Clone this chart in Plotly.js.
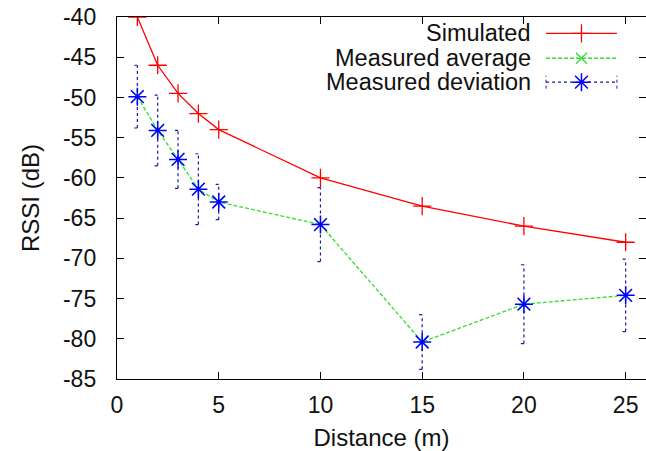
<!DOCTYPE html>
<html>
<head>
<meta charset="utf-8">
<script src="https://cdn.plot.ly/plotly-3.0.1.min.js"></script>
<style>html,body{margin:0;padding:0;background:#fff;}#chart{width:646px;height:451px;}</style>
</head>
<body>
<div id="chart"></div>
<script>
// ---- data ----
const distance = [1, 2, 3, 4, 5, 10, 15, 20, 25];
const simulated = [-40.0, -46.0, -49.5, -52.0, -54.0, -60.0, -63.5, -66.0, -68.0];
const measuredAverage = [-49.9, -54.1, -57.7, -61.4, -63.0, -65.8, -80.4, -75.7, -74.6];
const measuredDeviation = [3.9, 4.4, 3.6, 4.4, 2.2, 4.6, 3.4, 4.9, 4.5];
const seriesNames = ['Simulated', 'Measured average', 'Measured deviation'];
const xTicks = [0, 5, 10, 15, 20, 25];
const yTicks = [-85, -80, -75, -70, -65, -60, -55, -50, -45, -40];

// ---- styles ----
const RED = '#ff0000', GREEN = '#33dd33', BLUE = '#0000ff', DBLUE = '#1a1aa0';
const FONT = 'Liberation Sans, Arial, Helvetica, sans-serif';
const CAP = 0.15; // half-width of error caps in x units

// dotted error bars built from the data arrays
const errX = [], errY = [];
distance.forEach((x, i) => {
  const lo = measuredAverage[i] - measuredDeviation[i];
  const hi = measuredAverage[i] + measuredDeviation[i];
  errX.push(x, x, null, x - CAP, x + CAP, null, x - CAP, x + CAP, null);
  errY.push(lo, hi, null, hi, hi, null, lo, lo, null);
});

const traces = [
  {x: distance, y: simulated, mode: 'lines+markers', name: seriesNames[0],
   line: {color: RED, width: 1.3},
   marker: {symbol: 'cross-thin', size: 13, line: {color: RED, width: 1.3}},
   hoverinfo: 'x+y', showlegend: false},
  {x: distance, y: measuredAverage, mode: 'lines+markers', name: seriesNames[1],
   line: {color: GREEN, width: 1.3, dash: '4px,2px'},
   marker: {symbol: 'x-thin', size: 11, line: {color: GREEN, width: 1.3}},
   showlegend: false},
  {x: errX, y: errY, mode: 'lines', name: seriesNames[2] + ' bars',
   line: {color: DBLUE, width: 1.2, dash: 'dot'}, hoverinfo: 'skip', showlegend: false},
  {x: distance, y: measuredAverage, mode: 'markers', name: seriesNames[2],
   marker: {symbol: 'asterisk', size: 15, line: {color: BLUE, width: 1.5}},
   showlegend: false},
];

// ---- custom gnuplot-style key (text left, sample right), in a 0..1 overlay frame ----
const keyRows = [0.955, 0.886, 0.820];
const keyX0 = 0.811, keyX1 = 0.945, keyXm = 0.878;
const keyStyles = [
  {line: {color: RED, width: 1.3}, marker: {symbol: 'cross-thin', size: 13, line: {color: RED, width: 1.3}}},
  {line: {color: GREEN, width: 1.3, dash: '4px,2px'}, marker: {symbol: 'x-thin', size: 11, line: {color: GREEN, width: 1.3}}},
  {line: {color: DBLUE, width: 1.2, dash: 'dot'}, marker: {symbol: 'asterisk', size: 15, line: {color: BLUE, width: 1.5}}},
];
keyRows.forEach((ky, i) => {
  traces.push({x: [keyX0, keyX1], y: [ky, ky], xaxis: 'x2', yaxis: 'y2', mode: 'lines',
    line: keyStyles[i].line, hoverinfo: 'skip', showlegend: false});
  traces.push({x: [keyXm], y: [ky], xaxis: 'x2', yaxis: 'y2', mode: 'markers',
    marker: keyStyles[i].marker, hoverinfo: 'skip', showlegend: false});
});
// small end caps on the deviation key sample
traces.push({x: [keyX0, keyX0, null, keyX1, keyX1], y: [keyRows[2] - 0.018, keyRows[2] + 0.018, null, keyRows[2] - 0.018, keyRows[2] + 0.018],
  xaxis: 'x2', yaxis: 'y2', mode: 'lines', line: {color: DBLUE, width: 1, dash: 'dot'}, hoverinfo: 'skip', showlegend: false});

const annotations = seriesNames.map((name, i) => ({
  text: name, xref: 'paper', yref: 'paper', x: 0.785, y: keyRows[i],
  xanchor: 'right', yanchor: 'middle', showarrow: false, borderpad: 0,
  font: {family: FONT, size: 23.5, color: '#111'}
}));

const axisCommon = {
  showline: true, linecolor: '#000', linewidth: 1.2, mirror: 'ticks',
  ticks: 'inside', ticklen: 7, tickwidth: 1, tickcolor: '#000',
  showgrid: false, zeroline: false,
  tickfont: {family: FONT, size: 23, color: '#111'}
};

const layout = {
  width: 646, height: 451,
  margin: {l: 117, r: 0, t: 17, b: 72, pad: 0},
  paper_bgcolor: '#fff', plot_bgcolor: '#fff',
  showlegend: false,
  xaxis: Object.assign({}, axisCommon, {
    range: [0, 26], tickvals: xTicks, ticktext: xTicks.map(String),
    ticklabelstandoff: 5,
    title: {text: 'Distance (m)', font: {family: FONT, size: 24, color: '#111'}, standoff: 14}
  }),
  yaxis: Object.assign({}, axisCommon, {
    range: [-85, -40], tickvals: yTicks, ticktext: yTicks.map(String),
    ticklabelstandoff: 15,
    title: {text: 'RSSI (dB)', font: {family: FONT, size: 24, color: '#111'}, standoff: 16}
  }),
  xaxis2: {overlaying: 'x', anchor: 'y2', range: [0, 1], visible: false, fixedrange: true},
  yaxis2: {overlaying: 'y', anchor: 'x2', range: [0, 1], visible: false, fixedrange: true},
  annotations: annotations
};

Plotly.newPlot('chart', traces, layout, {displayModeBar: false, staticPlot: true});
</script>
</body>
</html>
